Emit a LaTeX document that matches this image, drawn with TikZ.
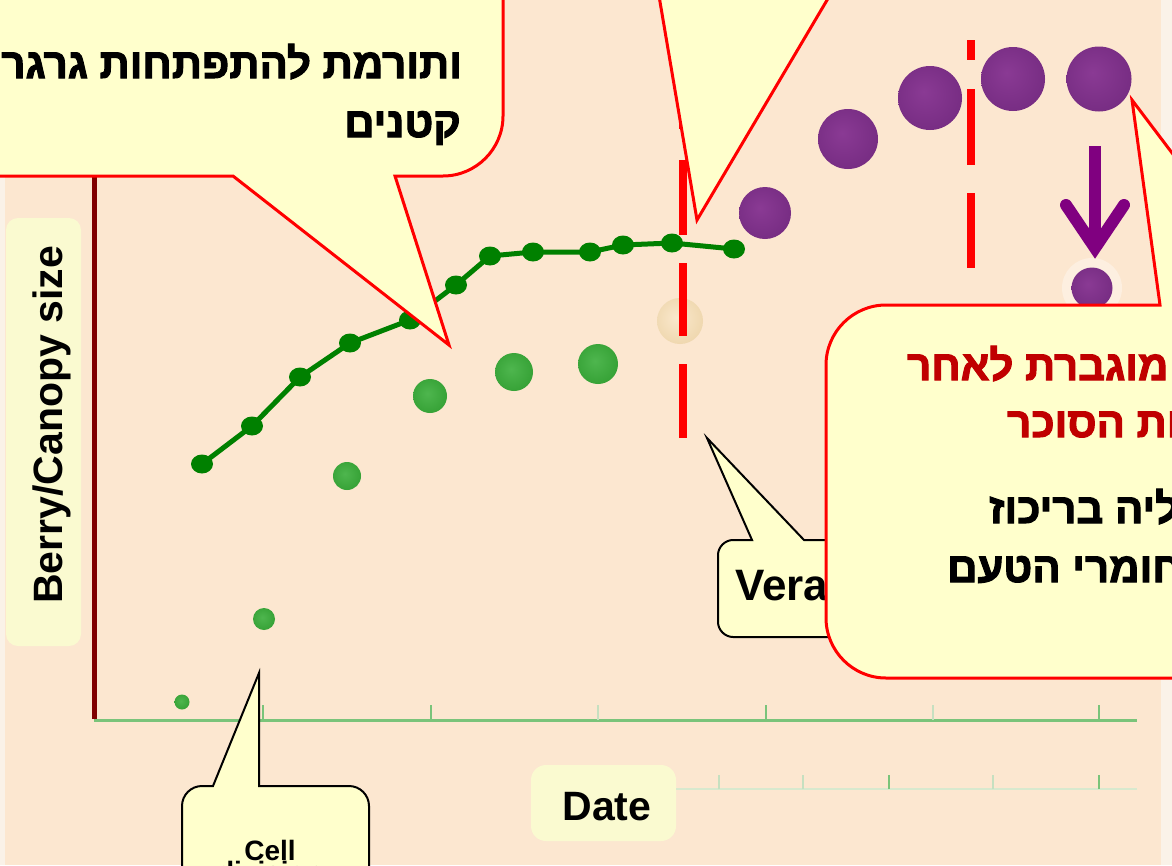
\documentclass[tikz,border=0pt]{standalone}
\usepackage{fontspec}
\setmainfont{Liberation Sans}
\newfontfamily\heb{Liberation Sans}[Script=Hebrew, BoldFeatures={FakeBold=2.5}]
\TeXXeTstate=1
\usetikzlibrary{shapes.geometric}

\definecolor{bgpeach}{RGB}{252,231,208}
\definecolor{edgelight}{RGB}{250,242,232}
\definecolor{callfill}{RGB}{255,255,204}
\definecolor{boxfill}{RGB}{250,250,208}
\definecolor{calred}{RGB}{255,0,0}
\definecolor{axisgreen}{RGB}{122,196,122}
\definecolor{ticklight}{RGB}{198,224,192}
\definecolor{faintgreen}{RGB}{216,233,206}
\definecolor{linegreen}{RGB}{0,128,0}
\definecolor{arrowpurple}{RGB}{128,0,128}
\definecolor{textred}{RGB}{192,0,0}
\definecolor{axisred}{RGB}{128,0,0}
\definecolor{purplehi}{RGB}{138,58,148}
\definecolor{purplemid}{RGB}{118,44,130}
\definecolor{purpleedge}{RGB}{84,30,96}
\definecolor{greenhi}{RGB}{78,182,78}
\definecolor{greenmid}{RGB}{52,160,52}
\definecolor{greenedge}{RGB}{40,140,44}
\definecolor{peachhi}{RGB}{250,232,205}
\definecolor{peachmid}{RGB}{238,214,172}
\definecolor{peachedge}{RGB}{220,194,146}

\pgfdeclareradialshading{purpleball}{\pgfpoint{-5bp}{5bp}}{color(0bp)=(purplehi); color(30bp)=(purplemid); color(48bp)=(purpleedge); color(56bp)=(purpleedge)}
\pgfdeclareradialshading{greenball}{\pgfpoint{-4bp}{4bp}}{color(0bp)=(greenhi); color(30bp)=(greenmid); color(48bp)=(greenedge); color(56bp)=(greenedge)}
\pgfdeclareradialshading{peachball}{\pgfpoint{-4bp}{4bp}}{color(0bp)=(peachhi); color(30bp)=(peachmid); color(48bp)=(peachedge); color(56bp)=(peachedge)}

\tikzset{
  purpleberry/.style={circle, inner sep=0pt, shading=purpleball, minimum size=#1},
  greenberry/.style={circle, inner sep=0pt, shading=greenball, minimum size=#1},
  peachberry/.style={circle, inner sep=0pt, shading=peachball, minimum size=#1},
  gdot/.style={ellipse, inner sep=0pt, fill=linegreen, minimum width=22pt, minimum height=19pt},
  redcall/.style={fill=callfill, draw=calred, line width=3pt, line join=miter},
  blackcall/.style={fill=callfill, draw=black, line width=2pt, line join=miter},
  vdash/.style={calred, line width=8pt},
  hebtext/.style={font=\heb\bfseries\fontsize{42pt}{48pt}\selectfont, inner sep=0pt},
  lattext/.style={font=\bfseries\fontsize{41pt}{48pt}\selectfont, inner sep=0pt},
}

\begin{document}
\begin{tikzpicture}[x=1pt,y=-1pt]
\useasboundingbox (0,0) rectangle (1172,865);
\clip (0,0) rectangle (1172,865);

% page background
\fill[bgpeach] (0,0) rectangle (1172,865);
\fill[edgelight] (0,0) rectangle (5,865);
\fill[edgelight] (1161,0) rectangle (1172,865);

% axis label panels
\fill[boxfill, rounded corners=12pt] (6,218) rectangle (81,646);
\fill[boxfill, rounded corners=15pt] (531,765) rectangle (676,841);

% date axis with ticks
\draw[axisgreen, line width=3pt] (94,720) -- (1137,720);
\foreach \tx in {263,431,766,1099} \draw[axisgreen, line width=2.5pt] (\tx,720) -- (\tx,705);
\foreach \tx in {598,933} \draw[ticklight, line width=1.5pt] (\tx,720) -- (\tx,705);

% secondary faint scale
\draw[faintgreen, line width=2pt] (676,789) -- (1137,789);
\foreach \tx in {719,803,993} \draw[ticklight, line width=1.2pt] (\tx,789) -- (\tx,775);
\foreach \tx in {889,1099} \draw[axisgreen, line width=2pt] (\tx,789) -- (\tx,775);

% size axis
\draw[axisred, line width=5pt] (94,150) -- (94,719);

% berries before veraison
\node[greenberry=15pt] (b1) at (182,702) {};
\node[greenberry=22pt] (b2) at (264,619) {};
\node[greenberry=28pt] (b3) at (347,476) {};
\node[greenberry=34pt] (b4) at (430,396) {};
\node[greenberry=38pt] (b5) at (514,372) {};
\node[greenberry=40pt] (b6) at (598,364) {};
\node[peachberry=46pt] (b7) at (680,321) {};

% stage boundaries
\draw[vdash] (683,55) -- (683,129);
\draw[vdash] (683,160) -- (683,235);
\draw[vdash] (683,263) -- (683,336);
\draw[vdash] (683,364) -- (683,438);
\draw[vdash] (971,40) -- (971,60);
\draw[vdash] (971,89) -- (971,165);
\draw[vdash] (971,193) -- (971,268);

% canopy growth curve
\foreach \i/\px/\py in {1/202/464,2/252/426,3/300/377,4/350/343,5/410/320,6/456/285,7/490/256,8/533/252,9/590/252,10/623/245,11/672/243,12/734/249}
  \coordinate (c\i) at (\px,\py);
\draw[linegreen, line width=5pt, line join=round] (c1) -- (c2) -- (c3) -- (c4) -- (c5) -- (c6) -- (c7) -- (c8) -- (c9) -- (c10) -- (c11) -- (c12);
\foreach \i in {1,...,12} \node[gdot] (d\i) at (c\i) {};

% ripening berries
\node[purpleberry=52pt] (p1) at (765,213) {};
\node[purpleberry=60pt] (p2) at (848,139) {};
\node[purpleberry=64pt] (p3) at (930,98) {};
\node[purpleberry=64pt] (p4) at (1013,79) {};
\node[purpleberry=65pt] (p5) at (1099,79) {};
\fill[white, opacity=0.35] (1092,288) circle[radius=30pt];
\node[purpleberry=41pt] (p6) at (1092,288) {};

% shrinking arrow
\coordinate (atop) at (1095,146);
\coordinate (atip) at (1095,248);
\coordinate (aleft) at (1066,205);
\coordinate (aright) at (1124,205);
\draw[arrowpurple, line width=12pt] (atop) -- (atip);
\draw[arrowpurple, line width=12pt, line cap=round, line join=miter] (aleft) -- (atip) -- (aright);

% callout, upper left
\draw[redcall] (-20,-20) -- (503,-20) -- (503,116) .. controls (503,149) and (476,176) .. (443,176) -- (395,176) -- (449,345) -- (233,176) -- (-20,176) -- cycle;

% callout, upper middle
\fill[callfill] (658,-10) -- (697,220) -- (833,-10) -- cycle;
\draw[calred, line width=3pt, line join=miter] (658,-10) -- (697,220) -- (833,-10);

% callout, veraison
\draw[blackcall] (804,540) -- (707,438) -- (752,540) -- (733,540) .. controls (725,540) and (718,547) .. (718,555) -- (718,622) .. controls (718,630) and (725,637) .. (733,637) -- (900,637) -- (900,540) -- cycle;
\node[lattext, font=\bfseries\fontsize{44pt}{50pt}\selectfont, anchor=base west] (tver) at (735,600) {Veraison};

% callout, right
\draw[redcall] (1160,305) -- (1132,100) -- (1287,305) -- (1300,305) -- (1300,678) -- (886,678) .. controls (853,678) and (826,651) .. (826,618) -- (826,365) .. controls (826,332) and (853,305) .. (886,305) -- cycle;

% callout, bottom
\draw[blackcall] (259,786) -- (259,673) -- (213,786) -- (202,786) .. controls (191,786) and (182,795) .. (182,806) -- (182,920) -- (369,920) -- (369,806) .. controls (369,795) and (360,786) .. (349,786) -- cycle;

% texts
\node[hebtext, anchor=base east] (t1) at (462,78) {\beginR ותורמת להתפתחות גרגרים\endR};
\node[hebtext, anchor=base east] (t2) at (461,137) {\beginR קטנים\endR};
\node[hebtext, text=textred, anchor=base west] (t3) at (907,380) {\beginR מוגברת לאחר\endR};
\node[hebtext, text=textred, anchor=base west] (t4) at (1007,437) {\beginR הצטברות הסוכר\endR};
\node[hebtext, anchor=base west] (t5) at (989,523) {\beginR עליה בריכוז\endR};
\node[hebtext, anchor=base west] (t6) at (947,582) {\beginR חומרי הטעם\endR};

\node[lattext, rotate=90, anchor=base] (ylab) at (62,425) {Berry/Canopy size};
\node[lattext, anchor=base] (xlab) at (607,820) {Date};
\node[font=\bfseries\fontsize{28pt}{30pt}\selectfont, inner sep=0pt, anchor=base] (tcell) at (270,860) {Cell};
\node[font=\bfseries\fontsize{28pt}{30pt}\selectfont, inner sep=0pt, anchor=base] (tdiv) at (270,881) {division};
\end{tikzpicture}
\end{document}
